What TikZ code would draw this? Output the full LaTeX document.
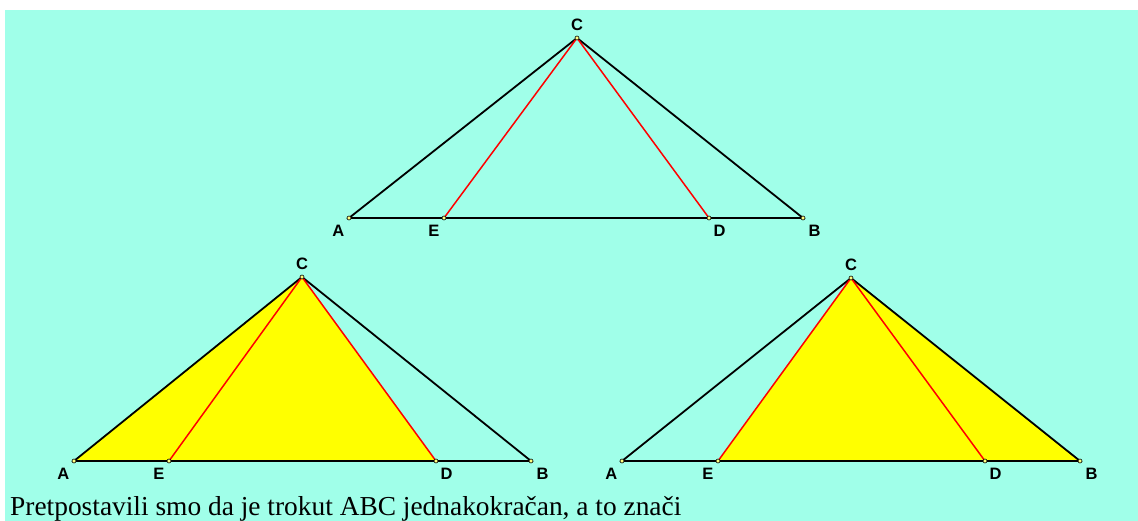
\documentclass[tikz,border=0pt]{standalone}
\usepackage{fontspec}
\setmainfont{Liberation Serif}
\newfontfamily\labelfont{Liberation Sans}
\usetikzlibrary{positioning}
\definecolor{bgc}{HTML}{A0FFE9}
\definecolor{fillc}{HTML}{FFFF00}
\definecolor{redc}{HTML}{FF0000}

\begin{document}
\begin{tikzpicture}[x=1pt, y=-1pt,
      side/.style={line width=1.8pt, draw=black},
      ced/.style={line width=1.5pt, draw=redc},
      pnt/.style={circle, draw=black, fill=fillc!50!white, inner sep=0pt,
                  minimum size=4pt, line width=0.6pt},
      lbl/.style={font=\labelfont\bfseries\fontsize{16.5}{16.5}\selectfont, inner sep=0pt}]
    \useasboundingbox (0,0) rectangle (1138,521);
    \fill[bgc] (5,10) rectangle (1138,521);
    % vertices of the three triangles
    \foreach \n/\cx/\cy/\ax/\ex/\dx/\bx/\by in {1/577/38/349/444/709/803/218,
        2/302/277/74/169/436/531/461, 3/851/278/622/718/985/1080/461}{
      \coordinate (A\n) at (\ax,\by);
      \coordinate (E\n) at (\ex,\by);
      \coordinate (D\n) at (\dx,\by);
      \coordinate (B\n) at (\bx,\by);
      \coordinate (C\n) at (\cx,\cy);}
    \fill[fillc] (A2) -- (D2) -- (C2) -- cycle;
    \fill[fillc] (E3) -- (B3) -- (C3) -- cycle;
    \foreach \n in {1,2,3}{
      \draw[side] (A\n) -- (B\n) -- (C\n) -- cycle;
      \draw[ced] (E\n) -- (C\n) -- (D\n);
      \foreach \p in {A,E,D,B,C}{
        \node[pnt] (p\p\n) at (\p\n) {};}
      \node[lbl, below left=7pt and 4.5pt of A\n] (lA\n) {A};
      \node[lbl, below left=7pt and 4.5pt of E\n] (lE\n) {E};
      \node[lbl, below right=7pt and 4.5pt of D\n] (lD\n) {D};
      \node[lbl, below right=7pt and 5.5pt of B\n] (lB\n) {B};
      \node[lbl, above=7pt of C\n] (lC\n) {C};}
    \node[anchor=base west, inner sep=0pt, font=\fontsize{27.4}{27.4}\selectfont]
      (txt) at (10,515) {Pretpostavili smo da je trokut ABC jednakokračan, a to znači};
  \end{tikzpicture}
\end{document}
